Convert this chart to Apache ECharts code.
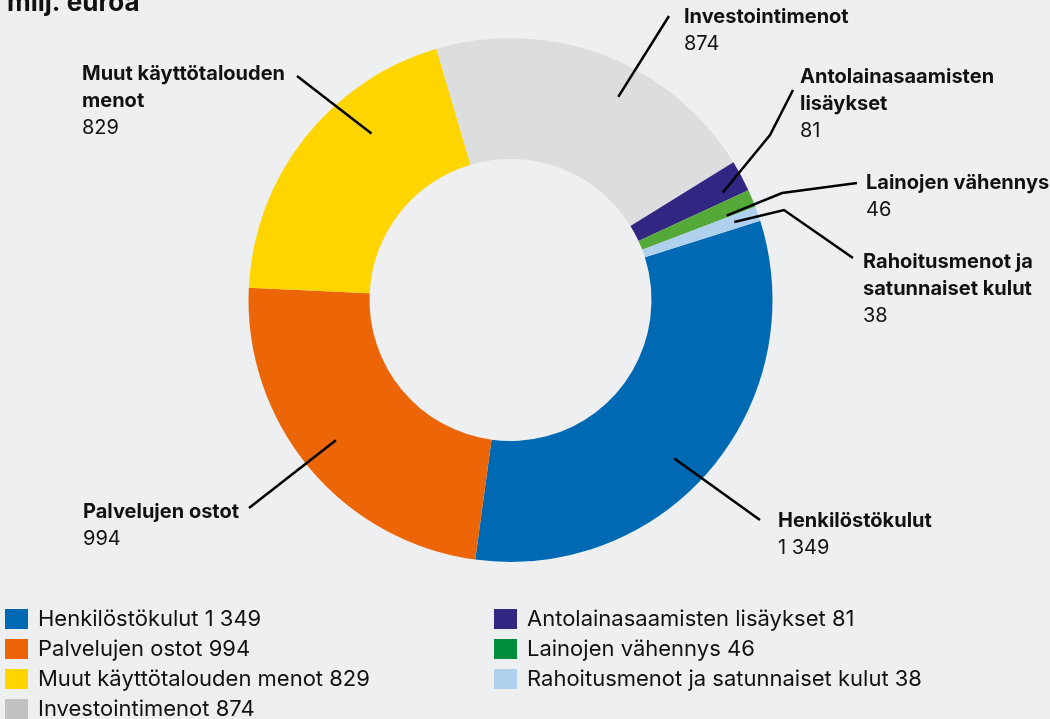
<!DOCTYPE html>
<html>
<head>
<meta charset="utf-8">
<script src="https://cdn.jsdelivr.net/npm/echarts@6/dist/echarts.min.js"></script>
<style>
html,body{margin:0;padding:0;background:#eeeff1;}
#c{width:1050px;height:719px;}
</style>
</head>
<body>
<div id="c"></div>
<script>
// ---- data ----
const categories = ["Henkilöstökulut", "Palvelujen ostot", "Muut käyttötalouden menot", "Investointimenot", "Antolainasaamisten lisäykset", "Lainojen vähennys", "Rahoitusmenot ja satunnaiset kulut"];
const values = [1349, 994, 829, 874, 81, 46, 38];
const labelNames = ["Henkilöstökulut", "Palvelujen ostot", "Muut käyttötalouden\nmenot", "Investointimenot", "Antolainasaamisten\nlisäykset", "Lainojen vähennys", "Rahoitusmenot ja\nsatunnaiset kulut"];
const unitTitle = "milj. euroa";

// ---- styles / layout ----
const sliceColors = ["#0069b4", "#ec6608", "#ffd500", "#dcdddf", "#312783", "#55a939", "#b0d1ee"];
const legendColors = ["#0069b4", "#ec6608", "#ffd500", "#c2c2c2", "#312783", "#008c3a", "#b0d1ee"];
const FONT = "Inter, 'Noto Sans', sans-serif";
const CX = 510.5, CY = 300, R_IN = 141, R_OUT = 262, START = 17.6;
// label top-left positions and leader-line geometry (annotation layout)
const labelPos = [[778, 507], [83, 498], [82, 60], [684, 3], [800, 63], [866, 169], [863, 248]];
const anchorShift = [-4, -1, -12, -7, -1.4, -1.5, 0];
const anchorR = [228, 224, 217, 230, 238, 232, 237];
const lineMid = [null, null, null, null, [770, 135], [782, 193], [784, 210]];
const lineEnd = [[760, 520], [249, 508], [297, 76], [669, 16], [793, 90], [857, 183], [853, 258]];

function fmt(v) {
  const s = String(v);
  return s.length > 3 ? s.slice(0, s.length - 3) + " " + s.slice(-3) : s;
}

const total = values.reduce((a, b) => a + b, 0);
const midAngles = [];
{
  let acc = 0;
  values.forEach(v => {
    midAngles.push(START - (acc + v / 2) / total * 360);
    acc += v;
  });
}

const chart = echarts.init(document.getElementById('c'), null, {renderer: 'canvas'});
const pieData = categories.map((c, i) => ({
  name: c, value: values[i], itemStyle: {color: sliceColors[i]}
}));
const overlayData = categories.map((c, i) => ({
  name: c, value: values[i], itemStyle: {color: 'rgba(0,0,0,0)'}
}));

function legendData(idx) {
  return idx.map(i => ({name: categories[i], itemStyle: {color: legendColors[i]}}));
}

const legendCommon = {
  orient: 'vertical',
  itemWidth: 23, itemHeight: 20, itemGap: 8,
  icon: 'rect',
  padding: 0,
  height: 140,
  selectedMode: false,
  formatter: name => name + ' ' + fmt(values[categories.indexOf(name)]),
  textStyle: {fontFamily: FONT, fontSize: 22, color: '#111', padding: [0, 0, 0, 5]}
};

chart.setOption({
  backgroundColor: '#eeeff1',
  animation: false,
  title: {
    text: unitTitle, left: 2, top: -15,
    textStyle: {fontFamily: FONT, fontSize: 26, fontWeight: 'bold', color: '#111'}
  },
  legend: [
    Object.assign({left: 5, top: 608, data: legendData([0, 1, 2, 3])}, legendCommon),
    Object.assign({left: 494, top: 608, data: legendData([4, 5, 6])}, legendCommon)
  ],
  series: [{
    type: 'pie',
    z: 2,
    center: [CX, CY],
    radius: [R_IN, R_OUT],
    startAngle: START,
    clockwise: true,
    data: pieData,
    label: {show: false},
    labelLine: {show: false},
    emphasis: {disabled: true}
  }, {
    type: 'pie',
    z: 5,
    silent: true,
    center: [CX, CY],
    radius: [R_IN, R_OUT],
    startAngle: START,
    clockwise: true,
    avoidLabelOverlap: false,
    data: overlayData,
    legendHoverLink: false,
    label: {
      show: true,
      position: 'outside',
      formatter: p => '{b|' + labelNames[p.dataIndex].split('\n').join('}\n{b|') + '}\n{v|' + fmt(p.value) + '}',
      rich: {
        b: {fontFamily: FONT, fontSize: 20, fontWeight: 'bold', color: '#111', lineHeight: 27},
        v: {fontFamily: FONT, fontSize: 20, color: '#111', lineHeight: 27}
      }
    },
    labelLine: {show: true, lineStyle: {color: '#000', width: 2.5}},
    emphasis: {disabled: true},
    labelLayout: function (p) {
      const i = p.dataIndex;
      const a = (midAngles[i] + anchorShift[i]) * Math.PI / 180;
      const s = [CX + anchorR[i] * Math.cos(a), CY - anchorR[i] * Math.sin(a)];
      const pts = lineMid[i] ? [s, lineMid[i], lineEnd[i]] : [s, lineEnd[i]];
      return {
        x: labelPos[i][0], y: labelPos[i][1],
        align: 'left', verticalAlign: 'top',
        labelLinePoints: pts
      };
    }
  }]
});
</script>
</body>
</html>
